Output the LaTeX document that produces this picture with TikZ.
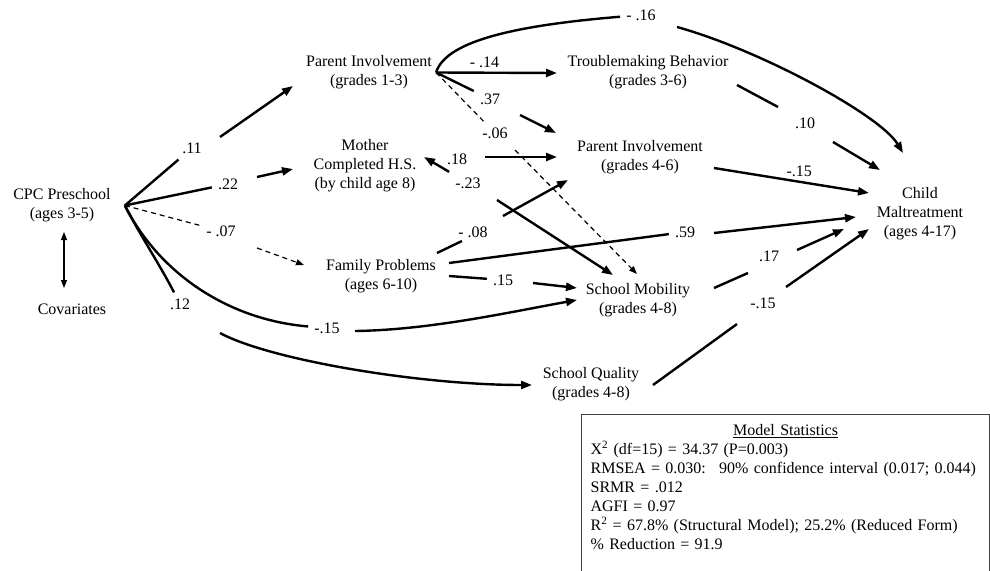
\documentclass[tikz,border=0pt]{standalone}
\usepackage{fontspec}
\setmainfont{Liberation Serif}
\usetikzlibrary{arrows.meta,calc}
\providecommand{\diagfont}{\fontsize{16}{19}\selectfont}

\tikzset{
  var/.style={align=center, inner sep=0pt, font=\diagfont},
  coef/.style={inner sep=6pt, font=\diagfont},
  link/.style={line width=2.4pt},
  eff/.style={link, -{Triangle[length=11pt,width=8pt]}},
  weaklink/.style={line width=1.2pt, dash pattern=on 5pt off 4pt},
  weak/.style={weaklink, -{Triangle[length=8pt,width=6pt]}},
  both/.style={line width=1.3pt, {Triangle[length=8pt,width=6pt]}-{Triangle[length=8pt,width=6pt]}},
  statbox/.style={draw=black!75, line width=1.2pt, anchor=north west, align=left,
    text width=390pt, inner xsep=9pt, inner ysep=10pt, font=\diagfont}
}

\begin{document}
\begin{tikzpicture}[x=1pt,y=-1pt]
\useasboundingbox (0,0) rectangle (990,570);

% Define nodes
\node[var] (cpc)    at (62,205.5)  {CPC Preschool\\(ages 3-5)};
\node[var] (cov)    at (72,309)    {Covariates};
\node[var] (pi13)   at (369,72.5)  {Parent Involvement\\(grades 1-3)};
\node[var] (mother) at (365,166)   {Mother\\Completed H.S.\\(by child age 8)};
\node[var] (fam)    at (381,276.5) {Family Problems\\(ages 6-10)};
\node[var] (tb)     at (648,72.5)  {Troublemaking Behavior\\(grades 3-6)};
\node[var] (pi46)   at (640,157)   {Parent Involvement\\(grades 4-6)};
\node[var] (sm)     at (638,300.5) {School Mobility\\(grades 4-8)};
\node[var] (sq)     at (591,384.5) {School Quality\\(grades 4-8)};
\node[var] (child)  at (920,214)   {Child\\Maltreatment\\(ages 4-17)};

\coordinate (cpcfan) at ([xshift=14pt]cpc.east);
\coordinate (pifan)  at ([xshift=4pt]pi13.east);

% Path coefficients
\node[coef] (l11)  at (192,148) {.11};
\node[coef] (l22)  at (228,184) {.22};
\node[coef] (l07)  at (221,231) {- .07};
\node[coef] (l12)  at (180,304) {.12};
\node[coef] (l15a) at (327,328) {-.15};
\node[coef] (l16)  at (641,15)  {- .16};
\node[coef] (l37)  at (490,99)  {.37};
\node[coef] (l06)  at (495,133) {-.06};
\node[coef] (l18)  at (457,159) {.18};
\node[coef] (l23)  at (468,183) {-.23};
\node[coef] (l08)  at (473,232) {- .08};
\node[coef] (l59)  at (685,232) {.59};
\node[coef] (l15b) at (503,280) {.15};
\node[coef] (l10)  at (805,123) {.10};
\node[coef] (l17)  at (769,256) {.17};
\node[coef] (l15c) at (763,303) {-.15};

% Connect the nodes
\draw[both] ($(cpc)+(2,26.5)$) -- ($(cov)+(-8,-21)$);

\draw[link] (cpcfan) -- (l11);     \draw[eff] ($(l11)+(28,-11)$) -- ($(pi13)+(-76,13.5)$);
\draw[link] (cpcfan) -- (l22);     \draw[eff] ($(l22)+(29,-7)$) -- ($(mother)+(-72,3)$);
\draw[weaklink] (cpcfan) -- (l07); \draw[weak] ($(l07)+(36,17)$) -- ($(fam)+(-77,-11.5)$);
\draw[link] (cpcfan) .. controls (140,235) and (160,265) .. (l12);
\draw[eff] ($(l12)+(40,29)$) .. controls (270,360) and (420,385) .. ($(sq)+(-59,0.5)$);
\draw[link] (cpcfan) .. controls (160,275) and (230,320) .. (l15a);
\draw[eff] ($(l15a)+(28,3)$) .. controls (430,330) and (510,312) .. ($(sm)+(-61,-0.5)$);

\draw[link] (pifan) .. controls (446,40) and (520,25) .. (l16);
\draw[eff] ($(l16)+(36,12)$) .. controls (760,50) and (880,115) .. ($(child)+(-17,-61)$);
\draw[eff] (pifan) -- node[coef, above=-2.5pt, pos=0.4] {- .14} ($(tb)+(-91,0.5)$);
\draw[link] (pifan) -- (l37);      \draw[eff] ($(l37)+(30,16)$) -- ($(pi46)+(-84,-24)$);
\draw[weaklink] (pifan) -- (l06);  \draw[weak] ($(l06)+(20,17)$) -- ($(sm)+(-1,-26.5)$);

\draw[eff] ($(l18)+(28,-2)$) -- ($(pi46)+(-83,0)$);
\draw[eff] (l23) -- ($(mother)+(59,-9)$);
\draw[eff] ($(l23)+(29,17)$) -- ($(sm)+(-25,-25.5)$);

\draw[link] ($(fam)+(56,-23.5)$) -- ($(l08)+(-11,9)$); \draw[eff] ($(l08)+(30,-16)$) -- ($(pi46)+(-72,23)$);
\draw[link] ($(fam)+(68,-13.5)$) -- (l59); \draw[eff] ($(l59)+(29,1)$) -- ($(child)+(-64,3)$);
\draw[link] ($(fam)+(68,-0.5)$) -- (l15b); \draw[eff] ($(l15b)+(30,3)$) -- ($(sm)+(-61,-12.5)$);

\draw[link] ($(tb)+(89,12.5)$) -- ($(l10)+(-27,-16)$); \draw[eff] ($(l10)+(28,19)$) -- ($(child)+(-40,-44)$);
\draw[eff] ($(pi46)+(74,11)$) -- node[coef, above=-2pt, pos=0.55] {-.15} ($(child)+(-51,-21)$);
\draw[link] ($(sm)+(76,-12.5)$) -- ($(l17)+(-21,17)$); \draw[eff] ($(l17)+(28,-6)$) -- ($(child)+(-76,15)$);
\draw[link] ($(sq)+(62,0.5)$) -- ($(l15c)+(-26,21)$);  \draw[eff] ($(l15c)+(23,-16)$) -- ($(child)+(-51,15)$);

% Model statistics
\node[statbox] (stats) at (581,414) {\makebox[390pt]{\underline{Model Statistics}}\\
  X\textsuperscript{2} (df=15) = 34.37 (P=0.003)\\
  RMSEA = 0.030: \ 90\% confidence interval (0.017; 0.044)\\
  SRMR = .012\\
  AGFI = 0.97\\
  R\textsuperscript{2} = 67.8\% (Structural Model); 25.2\% (Reduced Form)\\
  \% Reduction = 91.9\\
  \mbox{}};

\end{tikzpicture}
\end{document}
